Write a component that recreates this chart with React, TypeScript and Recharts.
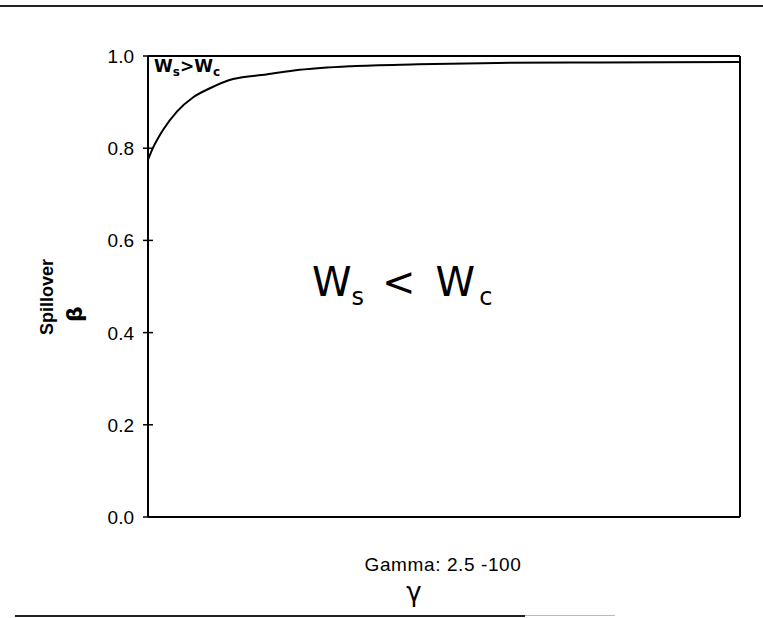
import { LineChart, Line, XAxis, YAxis, ReferenceLine } from 'recharts'

const gammaValues = [2.5, 3.3, 5, 7.3, 9.9, 12.7, 16.5, 22, 27.5, 36, 47, 60, 77, 100]
const betaValues = [0.775, 0.8, 0.84, 0.88, 0.91, 0.93, 0.95, 0.96, 0.97, 0.978, 0.982, 0.985, 0.986, 0.987]
const yTicks = [0, 0.2, 0.4, 0.6, 0.8, 1.0]

const data = gammaValues.map((g, i) => ({ gamma: g, beta: betaValues[i] }))

const FONT = '"Liberation Sans", Arial, sans-serif'
const HAND = '"DejaVu Sans", sans-serif'

function YTick(props: any) {
  const { x, y, payload } = props
  return (
    <g>
      <line x1={x - 5} x2={x + 5} y1={y} y2={y} stroke="#000" strokeWidth={1.5} />
      <text x={x - 14} y={y + 7} textAnchor="end" fontSize={19} fontFamily={FONT} fill="#000">
        {payload.value.toFixed(1)}
      </text>
    </g>
  )
}

export default function App() {
  return (
    <div style={{ position: 'absolute', left: 0, top: 0, width: 763, height: 618, background: '#fff' }}>
      {/* rules top and bottom of the page */}
      <div style={{ position: 'absolute', left: 0, top: 5, width: 763, height: 2, background: '#222' }} />
      <div style={{ position: 'absolute', left: 15, top: 615, width: 510, height: 2, background: '#222' }} />
      <div style={{ position: 'absolute', left: 525, top: 615, width: 90, height: 1, background: '#bbb' }} />

      <LineChart width={763} height={618} data={data} margin={{ top: 56, right: 23, left: 0, bottom: 101 }}>
        <XAxis dataKey="gamma" type="number" domain={[2.5, 100]} hide />
        <YAxis
          type="number"
          domain={[0, 1]}
          ticks={yTicks}
          width={148}
          tickSize={0}
          tickMargin={0}
          tickLine={false}
          tick={<YTick />}
          axisLine={{ stroke: '#000', strokeWidth: 2 }}
        />
        <ReferenceLine y={0} stroke="#000" strokeWidth={2} />
        <ReferenceLine y={1} stroke="#000" strokeWidth={2} />
        <ReferenceLine x={100} stroke="#000" strokeWidth={2} />
        <Line
          type="monotone"
          dataKey="beta"
          stroke="#000"
          strokeWidth={2}
          dot={false}
          isAnimationActive={false}
        />
      </LineChart>

      {/* y axis title */}
      <div
        style={{
          position: 'absolute', left: 47, top: 297, transform: 'translate(-50%, -50%) rotate(-90deg)',
          fontFamily: FONT, fontWeight: 'bold', fontSize: 18, whiteSpace: 'nowrap',
        }}
      >
        Spillover
      </div>
      <div
        style={{
          position: 'absolute', left: 74, top: 314, transform: 'translate(-50%, -50%) rotate(-90deg)',
          fontFamily: HAND, fontSize: 22, fontWeight: 'bold',
        }}
      >
        β
      </div>

      {/* x axis title */}
      <div
        style={{
          position: 'absolute', left: 443, top: 565, transform: 'translate(-50%, -50%)',
          fontFamily: FONT, fontSize: 19, letterSpacing: 0.6, whiteSpace: 'nowrap',
        }}
      >
        Gamma: 2.5 -100
      </div>
      <div
        style={{
          position: 'absolute', left: 414, top: 592, transform: 'translate(-50%, -50%)',
          fontFamily: HAND, fontSize: 26,
        }}
      >
        γ
      </div>

      {/* region labels */}
      <div
        style={{
          position: 'absolute', left: 154, top: 58, fontFamily: HAND, fontSize: 17, fontWeight: 'bold',
          whiteSpace: 'nowrap', lineHeight: 1,
        }}
      >
        W<sub style={{ fontSize: 12 }}>s</sub>&gt;W<sub style={{ fontSize: 12 }}>c</sub>
      </div>
      <div
        style={{
          position: 'absolute', left: 312, top: 262, fontFamily: HAND, fontSize: 40,
          whiteSpace: 'nowrap', lineHeight: 1,
        }}
      >
        W<sub style={{ fontSize: 24 }}>s</sub>
        <span style={{ marginLeft: 18, marginRight: 20 }}>&lt;</span>
        W<sub style={{ fontSize: 24, marginLeft: 4 }}>c</sub>
      </div>
    </div>
  )
}
